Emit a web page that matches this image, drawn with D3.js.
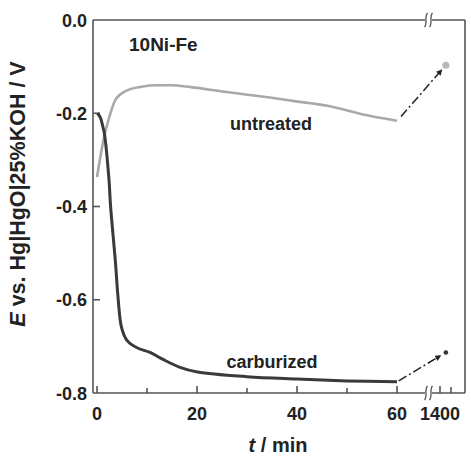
<!DOCTYPE html>
<html><head><meta charset="utf-8">
<script src="https://cdn.jsdelivr.net/npm/d3@7/dist/d3.min.js"></script>
<style>body{margin:0;background:#fff}svg{display:block}text{font-family:"Liberation Sans",Arial,sans-serif;font-weight:bold;fill:#222}</style>
</head><body>
<svg id="c" width="471" height="460"></svg>
<script>
// ---- data ----
const untreatedT = [0.0, 1.6, 2.3, 3.7, 5.6, 8.9, 12.2, 14.8, 18.8, 25.5, 35.6, 39.5, 46.1, 53.0, 60.0];
const untreatedE = [-0.337, -0.242, -0.214, -0.171, -0.153, -0.143, -0.140, -0.140, -0.144, -0.154, -0.168, -0.174, -0.184, -0.202, -0.216];
const carburizedT = [0.1, 0.7, 1.2, 1.5, 2.4, 2.7, 3.7, 4.2, 4.9, 6.0, 8.0, 10.6, 13.2, 16.6, 20.1, 30.0, 40.0, 50.0, 60.0];
const carburizedE = [-0.200, -0.210, -0.230, -0.245, -0.343, -0.397, -0.521, -0.594, -0.659, -0.687, -0.703, -0.713, -0.728, -0.745, -0.755, -0.765, -0.770, -0.774, -0.776];
const endT = 1416;               // long-term point (after the axis break)
const untreatedEnd = -0.097;
const carburizedEnd = -0.713;
const xTicksMain = [0, 20, 40, 60];
const xMinorMain = [10, 30, 50];
const xTicksBreak = [1400];
const xMinorBreak = [1430];
const yTicks = [0.0, -0.2, -0.4, -0.6, -0.8];
const seriesLabels = ["untreated", "carburized"];
const sampleLabel = "10Ni-Fe";

// ---- layout ----
const svg = d3.select("#c");
const L = 93, R = 465, T = 20, B = 393, brk = 428;
const x = d3.scaleLinear().domain([0, 60]).range([97, 397]);
const x2 = d3.scaleLinear().domain([1400, 1430]).range([440, 451]);
const y = d3.scaleLinear().domain([-0.8, 0]).range([B, T]);
const axisCol = "#555";

// frame with breaks
const g = svg.append("g").attr("stroke", axisCol).attr("stroke-width", 1.6).attr("fill", "none");
g.append("line").attr("x1", L).attr("y1", T).attr("x2", L).attr("y2", B);
g.append("line").attr("x1", R).attr("y1", T).attr("x2", R).attr("y2", B);
g.append("line").attr("x1", L).attr("y1", T).attr("x2", brk - 3).attr("y2", T);
g.append("line").attr("x1", brk + 4).attr("y1", T).attr("x2", R).attr("y2", T);
g.append("line").attr("x1", L).attr("y1", B).attr("x2", brk - 3).attr("y2", B);
g.append("line").attr("x1", brk + 4).attr("y1", B).attr("x2", R).attr("y2", B);
[T, B].forEach(yy => {
  [-2.5, 2.5].forEach(dx => {
    const cx = brk + dx + 0.5;
    g.append("path").attr("stroke-width", 1.3)
      .attr("d", `M${cx + 1.5},${yy - 7} C${cx - 2},${yy - 3} ${cx + 2},${yy + 3} ${cx - 1.5},${yy + 7}`);
  });
});

// ticks
xTicksMain.forEach(t => g.append("line").attr("x1", x(t)).attr("x2", x(t)).attr("y1", B).attr("y2", B - 7));
xMinorMain.forEach(t => g.append("line").attr("x1", x(t)).attr("x2", x(t)).attr("y1", B).attr("y2", B - 5));
xTicksBreak.forEach(t => g.append("line").attr("x1", x2(t)).attr("x2", x2(t)).attr("y1", B).attr("y2", B - 7));
xMinorBreak.forEach(t => g.append("line").attr("x1", x2(t)).attr("x2", x2(t)).attr("y1", B).attr("y2", B - 6));
yTicks.slice(1, -1).forEach(v => g.append("line").attr("x1", L).attr("x2", L + 7).attr("y1", y(v)).attr("y2", y(v)));

// tick labels
xTicksMain.forEach(t => svg.append("text").attr("x", x(t)).attr("y", 420).attr("text-anchor", "middle").attr("font-size", 18).text(t));
xTicksBreak.forEach(t => svg.append("text").attr("x", x2(t)).attr("y", 420).attr("text-anchor", "middle").attr("font-size", 18).text(t));
yTicks.forEach(v => svg.append("text").attr("x", 87).attr("y", y(v) + 6.5).attr("text-anchor", "end").attr("font-size", 18).text(v.toFixed(1)));

// axis titles
const yl = svg.append("text").attr("transform", "translate(25,194) rotate(-90)").attr("text-anchor", "middle").attr("font-size", 21.5);
yl.append("tspan").attr("font-style", "italic").text("E");
yl.append("tspan").text(" vs. Hg|HgO|25%KOH / V");
const xl = svg.append("text").attr("x", 278).attr("y", 452).attr("text-anchor", "middle").attr("font-size", 20);
xl.append("tspan").attr("font-style", "italic").text("t");
xl.append("tspan").text(" / min");

// curves
const line = d3.line().x(d => x(d[0])).y(d => y(d[1])).curve(d3.curveMonotoneX);
const uData = untreatedT.map((t, i) => [t, untreatedE[i]]);
const cData = carburizedT.map((t, i) => [t, carburizedE[i]]);
svg.append("path").datum(uData).attr("d", line).attr("fill", "none").attr("stroke", "#a9a9a9").attr("stroke-width", 2.6);
svg.append("path").datum(cData).attr("d", d3.line().x(d => x(d[0])).y(d => y(d[1])).curve(d3.curveCatmullRom.alpha(0.5))).attr("fill", "none").attr("stroke", "#3a3a3a").attr("stroke-width", 3);

// arrows to long-term points
svg.append("defs").append("marker").attr("id", "ah").attr("viewBox", "0 0 10 10").attr("refX", 9).attr("refY", 5)
  .attr("markerWidth", 9).attr("markerHeight", 6).attr("markerUnits", "userSpaceOnUse").attr("orient", "auto")
  .append("path").attr("d", "M0,0 L10,5 L0,10 z").attr("fill", "#222");
function arrow(p0, p1, s0, s1) {
  const dx = p1[0] - p0[0], dy = p1[1] - p0[1], len = Math.hypot(dx, dy);
  svg.append("line").attr("x1", p0[0] + dx / len * s0).attr("y1", p0[1] + dy / len * s0)
    .attr("x2", p1[0] - dx / len * s1).attr("y2", p1[1] - dy / len * s1)
    .attr("stroke", "#222").attr("stroke-width", 1.5).attr("stroke-dasharray", "9,3,2,3").attr("marker-end", "url(#ah)");
}
const uLast = uData[uData.length - 1], cLast = cData[cData.length - 1];
arrow([x(uLast[0]) + 2, y(uLast[1]) - 2], [x2(endT), y(untreatedEnd)], 3, 6);
arrow([x(cLast[0]), y(cLast[1])], [x2(endT), y(carburizedEnd)], 2, 6);
svg.append("circle").attr("cx", x2(endT)).attr("cy", y(untreatedEnd)).attr("r", 3.5).attr("fill", "#b8b8b8");
svg.append("circle").attr("cx", x2(endT)).attr("cy", y(carburizedEnd)).attr("r", 2.3).attr("fill", "#333");

// labels
svg.append("text").attr("x", 129).attr("y", 51).attr("font-size", 19).text(sampleLabel);
svg.append("text").attr("x", 271).attr("y", 130).attr("text-anchor", "middle").attr("font-size", 18).attr("fill", "#333").text(seriesLabels[0]);
svg.append("text").attr("x", 272).attr("y", 368).attr("text-anchor", "middle").attr("font-size", 18).attr("fill", "#333").text(seriesLabels[1]);
</script>
</body></html>
